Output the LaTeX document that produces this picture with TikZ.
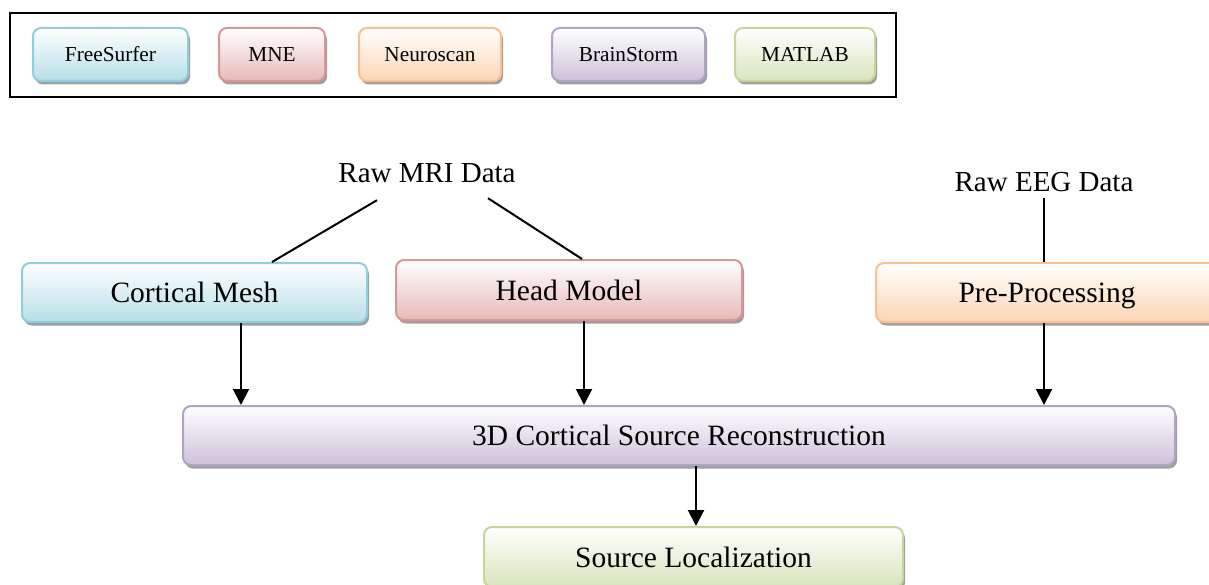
\documentclass[tikz,border=0pt]{standalone}
\usepackage{fontspec}
\setmainfont{Liberation Serif}
\usetikzlibrary{arrows.meta,shadows,calc}

\definecolor{cyanB}{HTML}{92CDDC}\definecolor{cyanF}{HTML}{B7DEE8}
\definecolor{redB}{HTML}{D99694}\definecolor{redF}{HTML}{E6B9B8}
\definecolor{orgB}{HTML}{FAC090}\definecolor{orgF}{HTML}{FCD5B5}
\definecolor{purB}{HTML}{B3A2C7}\definecolor{purF}{HTML}{CCC1DA}
\definecolor{grnB}{HTML}{C3D69B}\definecolor{grnF}{HTML}{D7E4BD}

\tikzset{
  box/.style={rounded corners=8pt, line width=2pt, inner sep=0pt, align=center,
    drop shadow={shadow xshift=2pt, shadow yshift=-3.5pt, fill=gray!75, opacity=1}},
  mainbox/.style={box, font=\fontsize{29.5}{31}\selectfont, text height=26pt, text depth=6pt},
  legbox/.style={box, font=\fontsize{21.3}{23}\selectfont, text height=19.2pt, text depth=4.3pt, minimum height=53pt},
  cyanbox/.style={draw=cyanB, top color=white, bottom color=cyanF},
  redbox/.style={draw=redB, top color=white, bottom color=redF},
  orgbox/.style={draw=orgB, top color=white, bottom color=orgF},
  purbox/.style={draw=purB, top color=white, bottom color=purF},
  grnbox/.style={draw=grnB, top color=white, bottom color=grnF},
  lbl/.style={font=\fontsize{29}{31}\selectfont, inner sep=0pt, text depth=0pt, anchor=base},
  conn/.style={line width=2pt},
  arr/.style={line width=2pt, -{Triangle[length=16pt,width=16pt]}},
}

\begin{document}
\begin{tikzpicture}[x=1pt,y=-1pt]
\clip (0,0) rectangle (1209,585);
\fill[white] (0,0) rectangle (1209,585);

% legend
\node[draw=black, line width=2pt, minimum width=886pt, minimum height=84pt, inner sep=0pt] (legend) at (453,55) {};
\node[legbox, cyanbox, minimum width=155pt] (lfs) at (110.5,54.5) {FreeSurfer};
\node[legbox, redbox, minimum width=106pt] (lmne) at (272,54.5) {MNE};
\node[legbox, orgbox, minimum width=142pt] (lns) at (430,54.5) {Neuroscan};
\node[legbox, purbox, minimum width=153pt] (lbs) at (628.5,54.5) {BrainStorm};
\node[legbox, grnbox, minimum width=140pt] (lml) at (805,54.5) {MATLAB};

% labels
\node[lbl] (mri) at (427,183) {Raw MRI Data};
\node[lbl] (eeg) at (1044,192) {Raw EEG Data};

% main boxes
\node[mainbox, cyanbox, minimum width=345pt, minimum height=59pt] (cm) at (194.5,292.5) {Cortical Mesh};
\node[mainbox, redbox, minimum width=346pt, minimum height=60pt] (hm) at (569,290) {Head Model};
\node[mainbox, orgbox, minimum width=342pt, minimum height=59pt] (pp) at (1047,292.5) {Pre-Processing};
\node[mainbox, purbox, minimum width=992pt, minimum height=59pt] (rec) at (679,435.5) {3D Cortical Source Reconstruction};
\node[mainbox, grnbox, minimum width=419pt, minimum height=60pt] (sl) at (693.5,557) {Source Localization};

% connectors
\draw[conn] ($(mri.south)+(-50,17)$) -- ($(cm.north west)+(251,0)$);
\draw[conn] ($(mri.south)+(61,15)$) -- ($(hm.north west)+(187,0)$);
\draw[conn] ($(eeg.south)+(0,6)$) -- (eeg.south |- pp.north);

\coordinate (a1) at ($(cm.south west)+(220,0)$);
\coordinate (a2) at ($(hm.south west)+(189,0)$);
\coordinate (a3) at (eeg.south |- pp.south);
\coordinate (a4) at ($(rec.south west)+(514,0)$);
\draw[arr] (a1) -- (a1 |- rec.north);
\draw[arr] (a2) -- (a2 |- rec.north);
\draw[arr] (a3) -- (a3 |- rec.north);
\draw[arr] (a4) -- (a4 |- sl.north);
\end{tikzpicture}
\end{document}
